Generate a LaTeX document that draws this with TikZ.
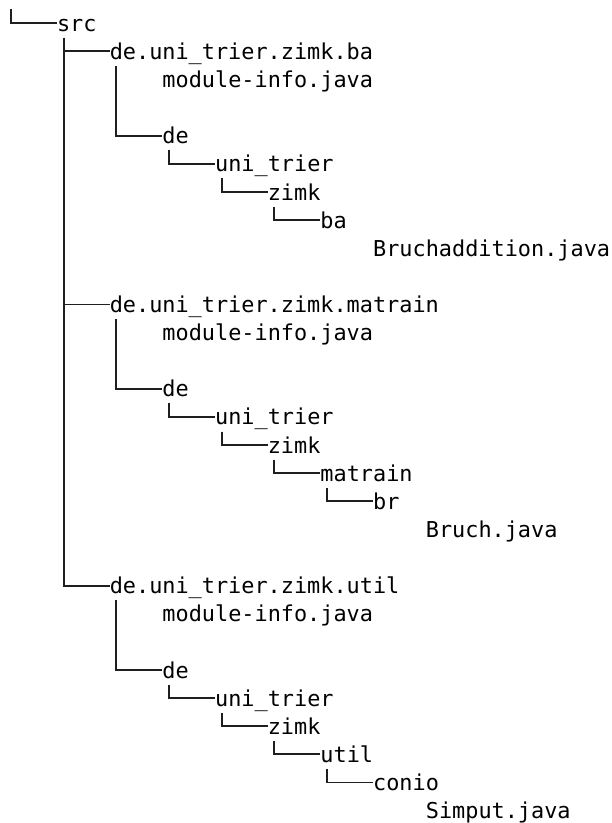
\documentclass[tikz,border=0pt]{standalone}
\usepackage{fontspec}
\newfontfamily\treefont{DejaVu Sans Mono}
\begin{document}
\begin{tikzpicture}[x=0.75pt,y=-0.75pt,
  entry/.style={anchor=base west, inner sep=0pt, outer sep=0pt,
    font=\treefont\fontsize{16.4pt}{19pt}\selectfont,
    text height=16.9pt, text depth=4.9pt, text=black},
  branch/.style={line width=1.4pt, draw=black!88}]
\useasboundingbox (0,0) rectangle (611,823);
% root
\coordinate (root) at (11,9.3);
\node[entry] (src) at (57.08,31.30) {src};
% module ba
\node[entry] (mba)     at (109.76,59.42)  {de.uni\_trier.zimk.ba};
\node[entry] (mbafile) at (162.44,87.54)  {module-info.java};
\node[entry] (bade)    at (162.44,143.78) {de};
\node[entry] (baun)    at (215.12,171.90) {uni\_trier};
\node[entry] (bazi)    at (267.80,200.02) {zimk};
\node[entry] (baba)    at (320.48,228.14) {ba};
\node[entry] (bafile)  at (373.16,256.26) {Bruchaddition.java};
% module matrain
\node[entry] (mma)     at (109.76,312.50) {de.uni\_trier.zimk.matrain};
\node[entry] (mmafile) at (162.44,340.62) {module-info.java};
\node[entry] (made)    at (162.44,396.86) {de};
\node[entry] (maun)    at (215.12,424.98) {uni\_trier};
\node[entry] (mazi)    at (267.80,453.10) {zimk};
\node[entry] (mamat)   at (320.48,481.22) {matrain};
\node[entry] (mabr)    at (373.16,509.34) {br};
\node[entry] (mafile)  at (425.84,537.46) {Bruch.java};
% module util
\node[entry] (mut)     at (109.76,593.70) {de.uni\_trier.zimk.util};
\node[entry] (mutfile) at (162.44,621.82) {module-info.java};
\node[entry] (utde)    at (162.44,678.06) {de};
\node[entry] (utun)    at (215.12,706.18) {uni\_trier};
\node[entry] (utzi)    at (267.80,734.30) {zimk};
\node[entry] (utut)    at (320.48,762.42) {util};
\node[entry] (utco)    at (373.16,790.54) {conio};
\node[entry] (utfile)  at (425.84,818.66) {Simput.java};
% connectors
\draw[branch] (root) |- (src.west);
\foreach \p/\c in {src/mba, src/mma, src/mut,
    mba/bade, bade/baun, baun/bazi, bazi/baba,
    mma/made, made/maun, maun/mazi, mazi/mamat, mamat/mabr,
    mut/utde, utde/utun, utun/utzi, utzi/utut, utut/utco}
  \draw[branch] ([xshift=4.94pt]\p.south west) |- (\c.west);
\end{tikzpicture}
\end{document}
